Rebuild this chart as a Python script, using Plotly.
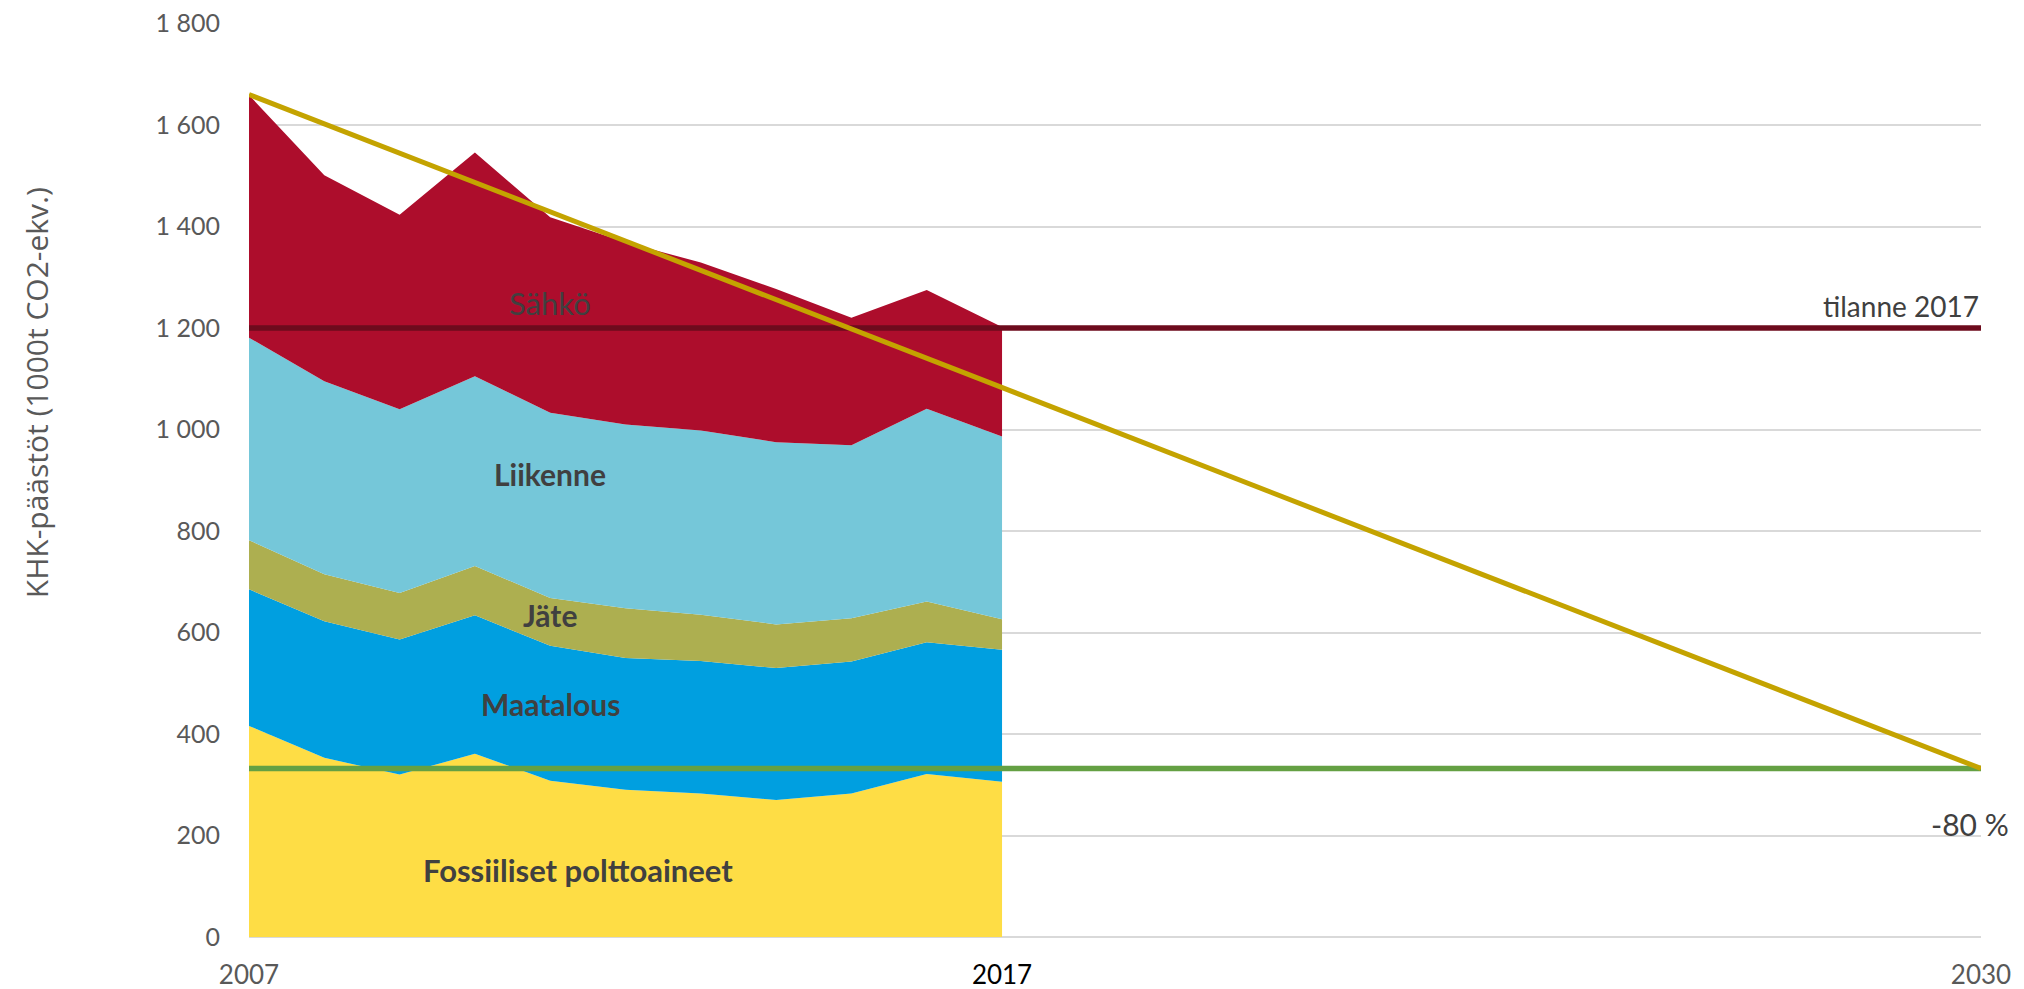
import plotly.graph_objects as go

years = [2007, 2008, 2009, 2010, 2011, 2012, 2013, 2014, 2015, 2016, 2017]
fossiiliset = [416, 353, 320, 361, 308, 290, 283, 270, 283, 321, 306]
maatalous = [269, 269, 266, 273, 266, 260, 261, 260, 260, 260, 260]
jate = [97, 93, 92, 97, 94, 98, 91, 86, 85, 80, 60]
liikenne = [399, 380, 362, 374, 365, 362, 363, 359, 341, 380, 360]
sahko = [478, 406, 383, 441, 385, 359, 331, 302, 251, 234, 216]

series_names = ["Fossiiliset polttoaineet", "Maatalous", "Jäte", "Liikenne", "Sähkö"]
series_values = [fossiiliset, maatalous, jate, liikenne, sahko]
series_colors = ["#FEDD45", "#009FE0", "#ADAF50", "#75C7D9", "#AD0D2C"]

line_years = [2007, 2030]
tilanne_2017 = [1200, 1200]
target_80 = [332, 332]
trend_line = [1660, 332]

y_ticks = [0, 200, 400, 600, 800, 1000, 1200, 1400, 1600, 1800]
x_tickvals = [2007, 2017, 2030]
x_ticktext = ["2007", "<span style='color:#000000'>2017</span>", "2030"]

fig = go.Figure()
for name, vals, col in zip(series_names, series_values, series_colors):
    fig.add_trace(go.Scatter(
        x=years, y=vals, name=name, mode="lines", stackgroup="one",
        line=dict(width=0, color=col), fillcolor=col, hoverinfo="skip"))

fig.add_trace(go.Scatter(x=line_years, y=tilanne_2017, mode="lines",
                         line=dict(color="#6D0B1D", width=5.5), hoverinfo="skip"))
fig.add_trace(go.Scatter(x=line_years, y=target_80, mode="lines",
                         line=dict(color="#64A043", width=5.5), hoverinfo="skip"))
fig.add_trace(go.Scatter(x=line_years, y=trend_line, mode="lines",
                         line=dict(color="#C4A300", width=5), hoverinfo="skip"))

label_font = dict(family="Lato", size=30, color="#404040")
ann = [
    dict(x=2011.0, y=1250, text="Sähkö", font=dict(family="Lato", size=31, color="#404040")),
    dict(x=2011.0, y=913, text="<b>Liikenne</b>", font=label_font),
    dict(x=2011.0, y=634, text="<b>Jäte</b>", font=label_font),
    dict(x=2011.0, y=460, text="<b>Maatalous</b>", font=label_font),
    dict(x=2011.37, y=133, text="<b>Fossiiliset polttoaineet</b>",
         font=dict(family="Lato", size=31, color="#404040")),
    dict(x=2030, y=1243, text="tilanne 2017", xanchor="right",
         font=dict(family="Lato", size=28, color="#404040")),
    dict(x=2029.85, y=223, text="-80 %", xanchor="center",
         font=dict(family="Lato", size=30, color="#404040")),
    dict(xref="paper", yref="paper", x=-0.123, y=0.596, textangle=-90,
         text="KHK-päästöt (1000t CO2-ekv.)", xanchor="center", yanchor="middle",
         font=dict(family="Open Sans", size=30, color="#595959")),
]
for a in ann:
    a.setdefault("xref", "x")
    a.setdefault("yref", "y")
    a["showarrow"] = False
fig.update_layout(annotations=ann)

fig.update_layout(
    width=2016, height=981,
    margin=dict(l=241, r=43, t=15, b=52, autoexpand=False),
    paper_bgcolor="white", plot_bgcolor="white",
    showlegend=False,
    separators=", ",
    xaxis=dict(range=[2007, 2030], tickvals=x_tickvals, ticktext=x_ticktext,
               showgrid=False, zeroline=False, showline=False, ticks="",
               automargin=False, ticklabeloverflow="allow",
               ticklabelstandoff=20,
               tickfont=dict(family="Lato", size=26, color="#595959")),
    yaxis=dict(range=[0, 1801], tickvals=y_ticks, tickformat=",d",
               showgrid=True, gridcolor="#D9D9D9", gridwidth=1.5,
               zeroline=True, zerolinecolor="#D9D9D9", zerolinewidth=1.5,
               automargin=False, ticklabeloverflow="allow",
               showline=False, ticks="", ticklabelstandoff=28,
               tickfont=dict(family="Lato", size=25, color="#595959")),
)

fig.write_html("out.html")
